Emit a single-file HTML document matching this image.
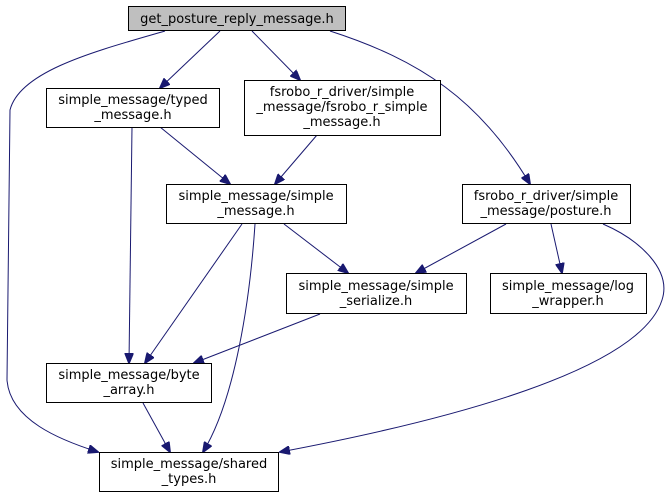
<!DOCTYPE html>
<html><head><meta charset="utf-8"><style>
html,body{margin:0;padding:0;background:#fff;width:672px;height:499px;overflow:hidden}
text{font-family:"DejaVu Sans","Liberation Sans",sans-serif;font-size:13px;fill:#000}
</style></head><body>
<svg width="672" height="499" viewBox="0 0 672 499" xmlns="http://www.w3.org/2000/svg">
<defs><marker id="a" markerWidth="11" markerHeight="9" refX="10" refY="4.5" orient="auto" markerUnits="userSpaceOnUse"><path d="M0,0 L11,4.5 L0,9 z" fill="#191970" stroke="#191970"/></marker></defs>
<g fill="none" stroke="#191970" stroke-width="1" marker-end="url(#a)">
<path d="M165,31 C100,50 20,70 10,110 L7,380 C10,420 60,440 98,452"/>
<path d="M220,31 L160,88"/>
<path d="M252,31 L300,80"/>
<path d="M330,31 C420,60 480,100 530,184"/>
<path d="M132,127 L129,363"/>
<path d="M160,127 L230,184"/>
<path d="M317,135 L275,184"/>
<path d="M242,224 L145,363"/>
<path d="M255,224 C250,300 235,400 203,452"/>
<path d="M284,224 L348,273"/>
<path d="M506,224 L416,273"/>
<path d="M551,224 L562,273"/>
<path d="M603,224 C640,240 672,270 662,300 C640,370 450,420 280,452"/>
<path d="M320,314 L194,363"/>
<path d="M143,403 L170,452"/>
</g>
<g stroke="#000" stroke-width="1">
<rect x="128.5" y="6.5" width="217" height="24" fill="#bfbfbf"/>
<rect x="46.5" y="88.5" width="173" height="39" fill="#fff"/>
<rect x="244.5" y="80.5" width="196" height="55" fill="#fff"/>
<rect x="166.5" y="184.5" width="180" height="39" fill="#fff"/>
<rect x="462.5" y="184.5" width="168" height="39" fill="#fff"/>
<rect x="286.5" y="273.5" width="180" height="40" fill="#fff"/>
<rect x="490.5" y="273.5" width="156" height="40" fill="#fff"/>
<rect x="46.5" y="363.5" width="165" height="39" fill="#fff"/>
<rect x="99.5" y="452.5" width="179" height="39" fill="#fff"/>
</g>
<g text-anchor="middle">
<text x="237" y="23">get_posture_reply_message.h</text>
<text x="133" y="104">simple_message/typed</text><text x="133" y="119">_message.h</text>
<text x="342" y="96">fsrobo_r_driver/simple</text><text x="342" y="111">_message/fsrobo_r_simple</text><text x="342" y="126">_message.h</text>
<text x="256" y="200">simple_message/simple</text><text x="256" y="215">_message.h</text>
<text x="546" y="200">fsrobo_r_driver/simple</text><text x="546" y="215">_message/posture.h</text>
<text x="376" y="290">simple_message/simple</text><text x="376" y="305">_serialize.h</text>
<text x="568" y="290">simple_message/log</text><text x="568" y="305">_wrapper.h</text>
<text x="129" y="379">simple_message/byte</text><text x="129" y="394">_array.h</text>
<text x="189" y="468">simple_message/shared</text><text x="189" y="483">_types.h</text>
</g>
</svg>
</body></html>
